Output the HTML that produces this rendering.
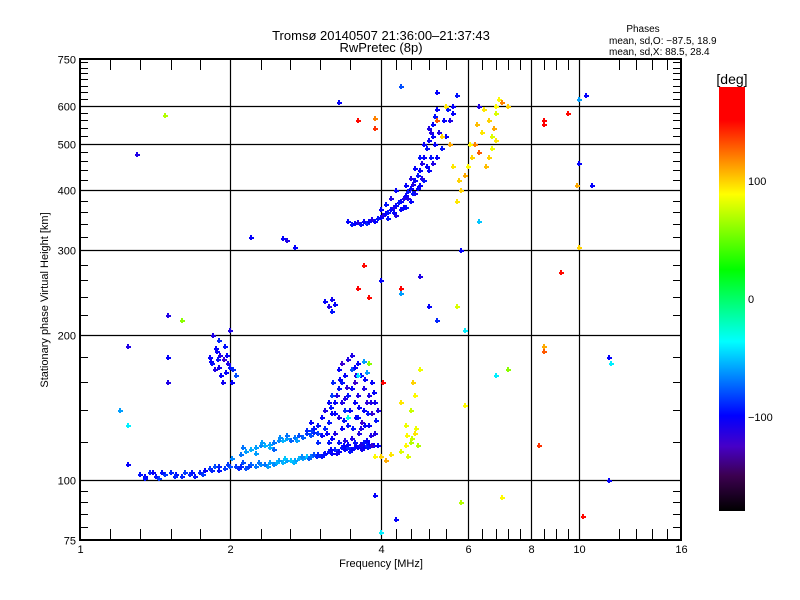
<!DOCTYPE html>
<html><head><meta charset="utf-8">
<style>
html,body{margin:0;padding:0;background:#fff;}
svg{display:block;font-family:"Liberation Sans",sans-serif;}
</style></head>
<body>
<svg id="chart" width="800" height="600" xmlns="http://www.w3.org/2000/svg">
<rect x="0" y="0" width="800" height="600" fill="#fff"/>
<text x="381" y="40" font-size="13" text-anchor="middle">Tromsø 20140507 21:36:00–21:37:43</text>
<text x="381" y="52" font-size="13" text-anchor="middle">RwPretec (8p)</text>
<text x="643" y="32" font-size="10" text-anchor="middle">Phases</text>
<text x="609" y="44" font-size="10">mean, sd,O: −87.5, 18.9</text>
<text x="609" y="55" font-size="10">mean, sd,X:  88.5, 28.4</text>
<g id="grid"></g>
<g id="marks"></g>
<g id="axes"></g>
<text x="381" y="567" font-size="11" text-anchor="middle">Frequency [MHz]</text>
<text transform="translate(48,300) rotate(-90)" font-size="11" text-anchor="middle">Stationary phase Virtual Height [km]</text>
<g id="cbar"></g>
</svg>
<script>
// ---- data ----
const xTickValues = [1, 2, 4, 6, 8, 10, 16];
const xTickLabels = ["1", "2", "4", "6", "8", "10", "16"];
const xMinorTicks = [1.15,1.32,1.52,1.74,2.3,2.64,3.03,3.48,4.3,4.6,5.0,5.4,6.4,6.8,7.2,7.6,8.5,9.0,9.5,12,13,14,15];
const yTickValues = [75, 100, 200, 300, 400, 500, 600, 750];
const yTickLabels = ["75", "100", "200", "300", "400", "500", "600", "750"];
const yMinorTicks = [80,85,90,95,120,140,160,180,220,240,260,280,320,340,360,380,420,440,460,480,520,540,560,580,620,640,660,680,700,720,740];
const cbarTickValues = [100, 0, -100];
const cbarTickLabels = ["100", "0", "−100"];

// [frequency MHz, height km, phase deg]
const oLowerBand = [[1.32,103,-95],[1.38,104,-90],[1.42,102,-95],[1.48,103,-85],[1.52,104,-90],[1.56,103,-95],[1.62,104,-85],[1.66,103,-90],[1.70,102,-95],[1.74,104,-90],[1.78,105,-100],[1.82,106,-85],[1.86,107,-80],[1.90,107,-90],[1.95,106,-85],[2.0,107,-80],[2.05,107,-85],[2.1,107,-90],[2.15,106,-80],[2.2,108,-75],[2.25,107,-70],[2.3,108,-65],[2.35,108,-70],[2.4,109,-60],[2.45,108,-65],[2.5,110,-60],[2.55,109,-55],[2.6,110,-60],[2.65,110,-50],[2.7,110,-60],[2.75,111,-55],[2.8,111,-60],[2.85,112,-50],[2.9,112,-70],[2.95,113,-80],[3.0,113,-90],[3.05,112,-95],[3.1,114,-100],[3.15,115,-95],[3.2,114,-100],[3.25,116,-90],[3.3,115,-100],[3.35,117,-95],[3.4,116,-100],[3.45,117,-90],[3.5,116,-100],[3.55,117,-95],[3.6,117,-100],[3.65,118,-95],[3.7,117,-100],[3.75,118,-90],[3.8,119,-100],[1.44,101,-85],[1.6,102,-90],[1.9,105,-95],[2.12,109,-80],[1.35,102,-100],[1.46,104,-95],[1.55,102,-90],[1.68,104,-95],[1.76,103,-85],[1.84,105,-90],[1.98,108,-85],[2.08,106,-90],[2.18,107,-85],[2.28,109,-70],[2.38,107,-60],[2.48,109,-55],[2.58,111,-50],[2.68,109,-55],[2.78,112,-65],[2.88,111,-75],[2.98,112,-90],[3.08,113,-95],[3.18,116,-100],[3.28,114,-105],[3.38,118,-100],[3.48,115,-95],[3.58,118,-100],[3.68,116,-105],[3.78,117,-95],[3.88,118,-100]];
const oUpperBand = [[2.1,113,-70],[2.15,115,-60],[2.2,116,-55],[2.25,117,-60],[2.3,118,-65],[2.35,118,-55],[2.4,119,-60],[2.45,120,-70],[2.5,121,-65],[2.55,121,-55],[2.6,122,-60],[2.65,121,-75],[2.7,123,-70],[2.75,124,-80],[2.8,123,-75],[2.85,125,-85],[2.9,124,-80],[2.95,126,-90],[3.0,125,-85],[2.02,111,-65],[2.25,114,-60],[2.45,116,-75],[2.12,117,-70],[2.32,120,-60],[2.52,123,-65],[2.72,121,-60],[2.92,127,-85],[2.6,124,-70],[2.4,117,-55]];
const oCusp = [[3.0,130,-95],[3.05,135,-100],[3.1,128,-90],[3.1,140,-110],[3.15,145,-100],[3.15,132,-95],[3.2,150,-85],[3.2,138,-100],[3.22,160,-90],[3.25,125,-110],[3.25,145,-100],[3.3,155,-95],[3.3,170,-100],[3.3,135,-110],[3.35,175,-120],[3.35,160,-95],[3.35,128,-100],[3.4,148,-110],[3.4,140,-90],[3.4,165,-100],[3.45,178,-110],[3.45,130,-95],[3.5,155,-100],[3.5,170,-80],[3.5,122,-110],[3.55,145,-100],[3.55,160,-120],[3.6,135,-95],[3.6,150,-110],[3.6,175,-100],[3.65,128,-110],[3.65,165,-95],[3.7,140,-100],[3.7,155,-110],[3.7,120,-95],[3.75,145,-115],[3.75,168,-60],[3.8,130,-100],[3.8,150,-110],[3.85,138,-120],[3.85,160,-100],[3.9,125,-110],[3.9,145,-105],[3.2,122,-100],[3.3,120,-95],[3.4,121,-110],[3.45,119,-100],[3.55,120,-95],[3.65,119,-110],[3.75,121,-100],[3.85,118,-120],[3.95,140,-110],[3.95,118,-100],[3.0,120,-90],[2.95,128,-95],[2.9,132,-100],[2.85,127,-90],[3.5,182,-110],[3.55,172,-100],[3.7,177,-60],[3.12,125,-100],[3.18,142,-95],[3.28,150,-110],[3.32,162,-100],[3.38,133,-95],[3.42,156,-115],[3.48,140,-100],[3.52,128,-95],[3.58,165,-110],[3.62,142,-100],[3.68,132,-120],[3.72,162,-100],[3.78,138,-95],[3.82,124,-110],[3.88,152,-100],[3.92,133,-95],[3.05,124,-100],[3.15,120,-95],[3.25,138,-100],[3.35,145,-110],[3.45,150,-95],[3.57,135,-100],[3.63,125,-110],[3.73,130,-100],[3.83,145,-110]];
const oSporadic = [[1.82,180,-100],[1.84,175,-95],[1.86,170,-110],[1.88,185,-100],[1.9,195,-90],[1.9,172,-105],[1.92,165,-100],[1.94,178,-120],[1.95,190,-95],[1.96,168,-100],[1.98,175,-110],[2.0,172,-95],[2.02,160,-100],[2.03,170,-90],[1.85,200,-110],[1.87,188,-100],[1.93,160,-105],[1.25,108,-100],[1.35,101,-95],[1.4,104,-100],[1.83,177,-100],[1.89,178,-95],[1.97,182,-100],[1.91,182,-110],[2.05,165,-80]];
const oFTrace = [[3.45,345,-100],[3.5,340,-95],[3.55,342,-100],[3.6,343,-110],[3.65,340,-95],[3.7,345,-100],[3.75,342,-90],[3.8,345,-100],[3.85,348,-110],[3.9,345,-100],[3.95,350,-95],[4.0,352,-100],[4.05,355,-110],[4.1,358,-100],[4.15,360,-95],[4.2,365,-100],[4.25,370,-110],[4.3,372,-100],[4.35,378,-95],[4.4,380,-100],[4.45,385,-110],[4.5,392,-100],[4.55,398,-95],[4.6,405,-100],[4.65,412,-110],[4.7,420,-100],[4.75,430,-95],[4.8,440,-100],[4.85,455,-110],[4.9,470,-100],[4.95,490,-95],[5.0,510,-100],[5.05,530,-110],[5.1,550,-100],[5.15,570,-95],[5.2,590,-100],[4.3,355,-110],[4.4,365,-100],[4.5,370,-95],[4.6,380,-100],[4.7,395,-110],[4.8,410,-100],[4.9,420,-95],[5.0,440,-100],[5.1,455,-110],[5.2,470,-100],[5.3,490,-95],[5.4,520,-100],[5.5,560,-110],[5.6,600,-100],[5.7,630,-95],[5.6,580,-100],[4.2,385,-110],[4.3,400,-100],[4.1,375,-95],[4.0,365,-100],[3.1,235,-100],[3.15,230,-110],[3.2,225,-95],[3.25,232,-100],[3.2,238,-105],[2.55,318,-100],[2.6,315,-110],[2.7,305,-100],[4.45,370,-100],[4.55,385,-110],[4.65,395,-95],[4.75,405,-100],[4.85,425,-110],[4.95,450,-100],[5.05,470,-95],[5.15,500,-100],[5.25,530,-110],[5.35,560,-100],[5.45,590,-95],[4.5,410,-100],[4.6,425,-110],[4.7,445,-100],[4.8,470,-95],[4.9,500,-100],[5.0,540,-110],[5.1,520,-100],[4.25,360,-100],[4.15,350,-95]];
const xTrace = [[5.7,380,95],[5.8,400,100],[5.9,430,110],[6.0,450,90],[6.1,470,100],[6.2,500,120],[6.4,530,95],[6.6,560,100],[6.8,600,90],[6.5,450,105],[6.6,470,100],[6.7,490,85],[6.8,510,95],[6.75,540,110],[6.8,580,80],[6.3,480,130],[6.9,620,90],[4.4,115,80],[4.5,118,90],[4.6,120,70],[4.7,125,95],[4.5,130,85],[4.6,140,75],[4.7,150,90],[4.65,160,100],[4.8,170,85],[4.4,145,95],[4.75,118,70],[4.55,112,80],[4.0,112,100],[4.1,110,110],[4.2,113,95],[5.2,560,130],[5.3,520,100],[5.4,600,95],[5.5,500,110],[5.6,450,95],[5.75,420,100],[6.05,500,90],[6.25,550,105],[6.45,590,95],[6.7,520,80],[4.62,122,75],[4.72,128,85],[4.52,124,90]];
const outliers = [[1.3,475,-110],[1.48,575,70],[1.25,190,-110],[1.5,160,-110],[1.5,220,-110],[1.6,215,60],[1.2,140,-60],[1.25,130,-40],[3.3,610,-100],[3.9,565,120],[3.9,540,140],[3.6,560,150],[4.4,660,-80],[5.2,640,-100],[6.3,600,-110],[7.0,610,120],[7.2,600,100],[10.0,620,-60],[10.3,630,-100],[9.5,580,150],[8.5,560,160],[8.5,550,170],[9.9,410,110],[10.6,410,-100],[10.0,455,-100],[9.2,270,150],[10.0,305,100],[8.5,190,110],[8.5,185,130],[11.5,180,-100],[11.6,175,-40],[7.2,170,60],[6.8,165,-40],[7.0,92,90],[8.3,118,140],[10.2,84,150],[11.5,100,-100],[5.8,90,70],[5.9,143,90],[4.3,83,-100],[4.0,78,-40],[3.9,93,-100],[5.7,230,80],[5.0,230,-100],[4.4,250,160],[4.4,245,-60],[4.0,260,-100],[3.8,240,150],[3.7,280,150],[3.6,250,160],[4.8,265,-110],[5.8,300,-100],[6.3,345,-50],[5.2,215,-90],[5.9,205,-40],[2.0,205,-110],[2.2,320,-100],[1.5,180,-100],[3.45,135,-30],[3.6,165,-40],[3.8,175,60],[3.9,112,90],[4.05,160,160]];

// ---- layout ----
const L = 80, R = 681, T = 59, B = 540;
const xMin = 1, xMax = 16, yMin = 75, yMax = 750;
const xScale = f => L + (Math.log(f / xMin) / Math.log(xMax / xMin)) * (R - L);
const yScale = h => B - (Math.log(h / yMin) / Math.log(yMax / yMin)) * (B - T);
const NS = "http://www.w3.org/2000/svg";
function mk(tag, attrs, parent) {
  const e = document.createElementNS(NS, tag);
  for (const k in attrs) e.setAttribute(k, attrs[k]);
  parent.appendChild(e);
  return e;
}
const stops = [[-180,0,0,0],[-150,60,0,80],[-125,70,0,200],[-99,0,0,255],[-36,0,255,255],[25,0,255,0],[89,255,255,0],[152,255,0,0],[180,255,0,0]];
function phaseColor(p) {
  p = Math.max(-180, Math.min(180, p));
  for (let i = 0; i < stops.length - 1; i++) {
    const a = stops[i], b = stops[i + 1];
    if (p >= a[0] && p <= b[0]) {
      const t = (p - a[0]) / (b[0] - a[0]);
      const c = [1, 2, 3].map(j => Math.round(a[j] + (b[j] - a[j]) * t));
      return `rgb(${c[0]},${c[1]},${c[2]})`;
    }
  }
  return "#f00";
}

const grid = document.getElementById("grid");
const axes = document.getElementById("axes");
const marks = document.getElementById("marks");
const cbar = document.getElementById("cbar");

xTickValues.forEach((v, i) => {
  const x = Math.round(xScale(v)) + 0.5;
  if (i > 0 && i < xTickValues.length - 1) {
    const ln = mk("line", {x1: x, x2: x, y1: T, y2: B, stroke: "#000", "stroke-width": 1.2}, grid);
    
    
  }
  const t = mk("text", {x: x, y: 553, "font-size": 11, "text-anchor": "middle"}, axes);
  
  
  t.textContent = xTickLabels[i];
});
yTickValues.forEach((v, i) => {
  const y = Math.round(yScale(v)) + 0.5;
  if (i > 0 && i < yTickValues.length - 1) {
    const ln = mk("line", {x1: L, x2: R, y1: y, y2: y, stroke: "#000", "stroke-width": 1.2}, grid);
    
    
  }
  const t = mk("text", {x: 76, y: y + 4, "font-size": 11, "text-anchor": "end"}, axes);
  
  
  t.textContent = yTickLabels[i];
});
xMinorTicks.forEach(v => {
  const x = Math.round(xScale(v)) + 0.5;
  const a = mk("line", {x1: x, x2: x, y1: T, y2: T + 11, stroke: "#000"}, axes);
  
  
  const b = mk("line", {x1: x, x2: x, y1: B, y2: B - 11, stroke: "#000"}, axes);
  
  
});
yMinorTicks.forEach(v => {
  const y = Math.round(yScale(v)) + 0.5;
  const a = mk("line", {x1: L, x2: L + 8, y1: y, y2: y, stroke: "#000"}, axes);
  
  
  const b = mk("line", {x1: R, x2: R - 8, y1: y, y2: y, stroke: "#000"}, axes);
  
  
});
const frame = mk("rect", {x: L, y: T, width: R - L, height: B - T, fill: "none", stroke: "#000", "stroke-width": 2}, axes);



const allSeries = [oLowerBand, oUpperBand, oCusp, oSporadic, oFTrace, xTrace, outliers];
allSeries.forEach(series => {
  series.forEach(pt => {
    const cx = Math.round(xScale(pt[0])), cy = Math.round(yScale(pt[1]));
    const col = phaseColor(pt[2]);
    const g = mk("g", {fill: col}, marks);
    
    
    mk("rect", {x: cx - 1, y: cy - 2, width: 2, height: 5}, g);
    mk("rect", {x: cx - 2, y: cy, width: 5, height: 2}, g);
  });
});

const cbX = 719, cbW = 26, cbT = 87, cbB = 511;
const cbScale = p => cbT + (180 - p) / 360 * (cbB - cbT);
const defs = mk("defs", {}, cbar);
const grad = mk("linearGradient", {id: "cg", x1: 0, y1: 0, x2: 0, y2: 1}, defs);
stops.slice().reverse().forEach(s => {
  mk("stop", {offset: ((180 - s[0]) / 360).toFixed(4), "stop-color": `rgb(${s[1]},${s[2]},${s[3]})`}, grad);
});
const cbr = mk("rect", {x: cbX, y: cbT, width: cbW, height: cbB - cbT, fill: "url(#cg)"}, cbar);


const cbt = mk("text", {x: 732, y: 84, "font-size": 14, "text-anchor": "middle"}, cbar);


cbt.textContent = "[deg]";
cbarTickValues.forEach((v, i) => {
  const t = mk("text", {x: 748, y: cbScale(v) + 4, "font-size": 11}, cbar);
  
  
  t.textContent = cbarTickLabels[i];
});
</script>
</body></html>
